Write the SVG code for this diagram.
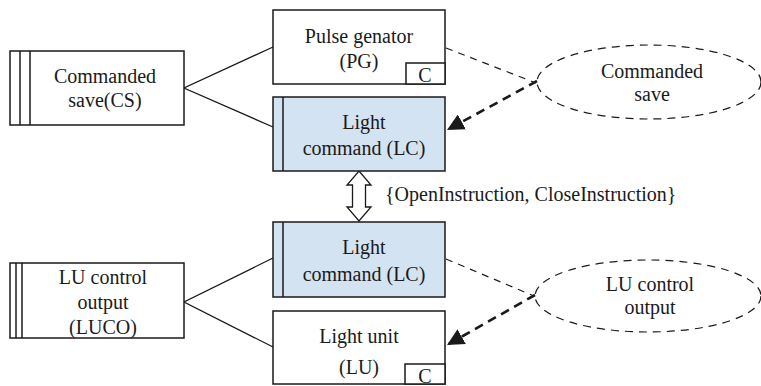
<svg xmlns="http://www.w3.org/2000/svg" width="761" height="386" viewBox="0 0 761 386">
  <style>
    .box { fill: #ffffff; stroke: #1a1a1a; stroke-width: 1.5; }
    .lc { fill: #d3e3f1; stroke: #1a1a1a; stroke-width: 1.5; }
    .bar { stroke: #1a1a1a; stroke-width: 1.5; fill: none; }
    .t, .tl { font-size: 20px; fill: #1a1a1a; }
    .t { text-anchor: middle; }
    .link { stroke: #1a1a1a; stroke-width: 1.3; fill: none; }
    .thin { stroke: #1a1a1a; stroke-width: 1.2; fill: none; stroke-dasharray: 7 6; }
    .thick { stroke: #1a1a1a; stroke-width: 2.6; fill: none; stroke-dasharray: 9 6; }
    .oval { stroke: #1a1a1a; stroke-width: 1.2; fill: none; stroke-dasharray: 8 6; }
  </style>
  <defs>
    <marker id="head" viewBox="0 0 10 10" refX="10" refY="5" markerWidth="6.5" markerHeight="6.5" markerUnits="strokeWidth" orient="auto">
      <path d="M0,0 L10,5 L0,10 Z" fill="#1a1a1a"/>
    </marker>
  </defs>

  <g font-family="Liberation Serif, Tinos, Noto Serif, DejaVu Serif, FreeSerif, Times New Roman, Times, serif">
  <g id="connectors">
    <!-- tree links from left boxes -->
    <polyline class="link" points="273,47 184,88 273,127"/>
    <polyline class="link" points="273,258 184,302 273,347"/>
    <!-- dashed links to ellipses -->
    <line class="thin" x1="446" y1="48" x2="536" y2="83"/>
    <line class="thick" x1="537" y1="81" x2="447" y2="130" marker-end="url(#head)"/>
    <line class="thin" x1="446" y1="259" x2="534" y2="296"/>
    <line class="thick" x1="535" y1="295" x2="447" y2="345" marker-end="url(#head)"/>
    <!-- double-headed hollow arrow -->
    <path d="M359,171 L371,185 L365.5,185 L365.5,207 L371,207 L359,221 L347,207 L352.5,207 L352.5,185 L347,185 Z" fill="#ffffff" stroke="#1a1a1a" stroke-width="1.3"/>
    <text class="tl" x="385" y="201">{OpenInstruction, CloseInstruction}</text>
  </g>

  <g id="cs">
    <rect class="box" x="10" y="51" width="174" height="74"/>
    <line class="bar" x1="20" y1="51" x2="20" y2="125"/>
    <line class="bar" x1="30" y1="51" x2="30" y2="125"/>
    <text class="t" x="105" y="83">Commanded</text>
    <text class="t" x="105" y="107">save(CS)</text>
  </g>

  <g id="pg">
    <rect class="box" x="273" y="10" width="172" height="74"/>
    <rect class="box" x="406" y="63" width="39" height="21"/>
    <text class="t" x="359" y="43">Pulse genator</text>
    <text class="t" x="359" y="68">(PG)</text>
    <text class="t" x="425" y="82">C</text>
  </g>

  <g id="lc-top">
    <rect class="lc" x="273" y="97" width="172" height="74"/>
    <line class="bar" x1="283" y1="97" x2="283" y2="171"/>
    <text class="t" x="364" y="129">Light</text>
    <text class="t" x="364" y="155">command (LC)</text>
  </g>

  <g id="cs-oval">
    <ellipse class="oval" cx="649" cy="82" rx="112" ry="37"/>
    <text class="t" x="652" y="78">Commanded</text>
    <text class="t" x="652" y="101">save</text>
  </g>

  <g id="luco">
    <rect class="box" x="10" y="263" width="174" height="75"/>
    <line class="bar" x1="16" y1="263" x2="16" y2="338"/>
    <line class="bar" x1="22" y1="263" x2="22" y2="338"/>
    <text class="t" x="103" y="284">LU control</text>
    <text class="t" x="103" y="309">output</text>
    <text class="t" x="103" y="334">(LUCO)</text>
  </g>

  <g id="lc-bottom">
    <rect class="lc" x="273" y="222" width="172" height="75"/>
    <line class="bar" x1="283" y1="222" x2="283" y2="297"/>
    <text class="t" x="364" y="254">Light</text>
    <text class="t" x="364" y="281">command (LC)</text>
  </g>

  <g id="lu">
    <rect class="box" x="273" y="311" width="172" height="73"/>
    <rect class="box" x="405" y="364" width="40" height="20"/>
    <text class="t" x="359" y="343">Light unit</text>
    <text class="t" x="359" y="374">(LU)</text>
    <text class="t" x="425" y="383">C</text>
  </g>

  <g id="luco-oval">
    <ellipse class="oval" cx="648" cy="296" rx="113" ry="36"/>
    <text class="t" x="650" y="291">LU control</text>
    <text class="t" x="650" y="314">output</text>
  </g>
  </g>
</svg>
